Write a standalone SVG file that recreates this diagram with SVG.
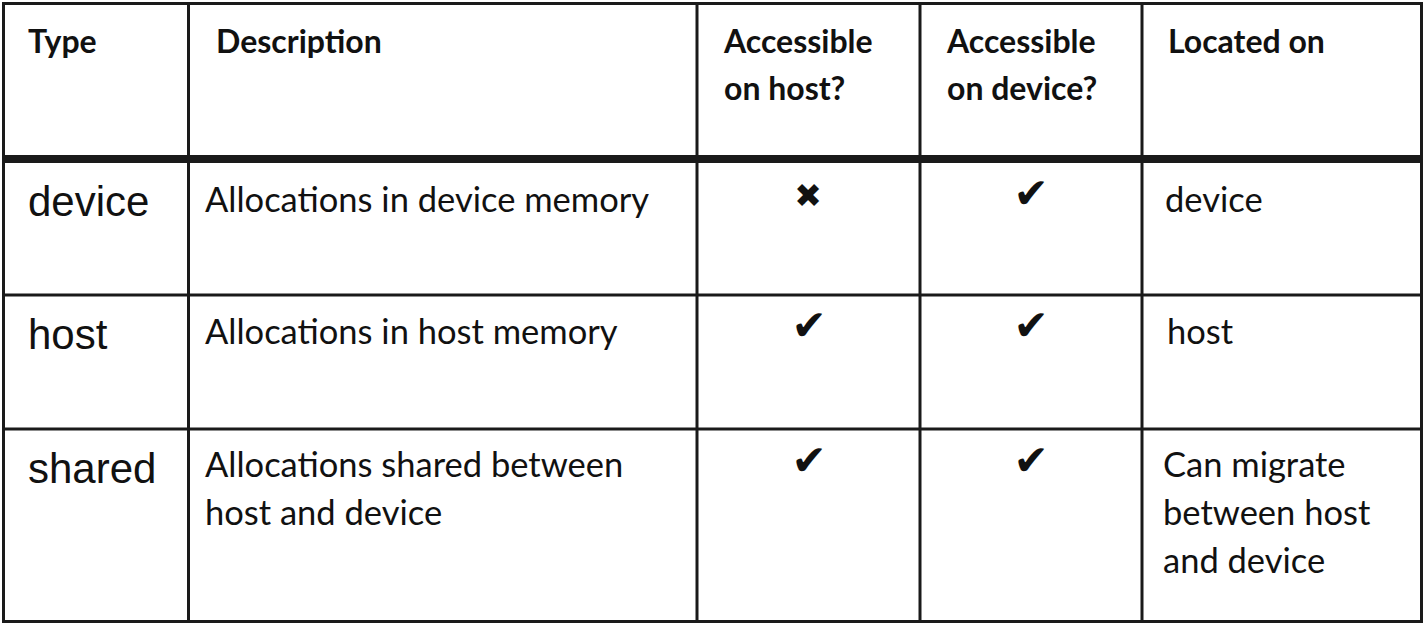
<svg xmlns="http://www.w3.org/2000/svg" width="1425" height="625" viewBox="0 0 1425 625">
<style>
.hd{font-family:Lato,"Open Sans",sans-serif;font-weight:bold;font-size:32px;fill:#111}
.bd{font-family:Lato,"Open Sans",sans-serif;font-size:34.5px;fill:#111}
.ty{font-family:"Liberation Sans",Arial,sans-serif;font-size:42px;fill:#111}
.mk{font-family:"DejaVu Sans",sans-serif;font-size:42px;fill:#111;text-anchor:middle}
.mk.x{font-size:33px}
.ln{stroke:#1a1a1a;stroke-width:3;fill:none}
</style>
<rect width="1425" height="625" fill="#fff"/>
<g id="grid">
<rect class="ln" x="3.5" y="3.5" width="1418" height="618"/>
<line class="ln" x1="188.5" y1="3" x2="188.5" y2="622"/>
<line class="ln" x1="697" y1="3" x2="697" y2="622"/>
<line class="ln" x1="920" y1="3" x2="920" y2="622"/>
<line class="ln" x1="1142" y1="3" x2="1142" y2="622"/>
<rect x="3" y="155" width="1419" height="8" fill="#1a1a1a"/>
<line class="ln" x1="3" y1="295" x2="1422" y2="295"/>
<line class="ln" x1="3" y1="429" x2="1422" y2="429"/>
</g>
<g id="header">
<text class="hd" x="28" y="53">Type</text>
<text class="hd" x="216" y="53">Description</text>
<text class="hd" x="724" y="53">Accessible</text>
<text class="hd" x="724" y="100">on host?</text>
<text class="hd" x="947" y="53">Accessible</text>
<text class="hd" x="947" y="100">on device?</text>
<text class="hd" x="1168" y="53">Located on</text>
</g>
<g id="row-device">
<text class="ty" x="28" y="216">device</text>
<text class="bd" x="205" y="212">Allocations in device memory</text>
<text class="mk x" x="808" y="207">✖</text>
<text class="mk" x="1031" y="208">✔</text>
<text class="bd" x="1165" y="212">device</text>
</g>
<g id="row-host">
<text class="ty" x="28" y="349">host</text>
<text class="bd" x="205" y="344">Allocations in host memory</text>
<text class="mk" x="809" y="340">✔</text>
<text class="mk" x="1031" y="340">✔</text>
<text class="bd" x="1167" y="344">host</text>
</g>
<g id="row-shared">
<text class="ty" x="28" y="483">shared</text>
<text class="bd" x="205" y="477">Allocations shared between</text>
<text class="bd" x="205" y="525">host and device</text>
<text class="mk" x="809" y="475">✔</text>
<text class="mk" x="1031" y="475">✔</text>
<text class="bd" x="1163" y="477">Can migrate</text>
<text class="bd" x="1163" y="525">between host</text>
<text class="bd" x="1163" y="573">and device</text>
</g>
</svg>
